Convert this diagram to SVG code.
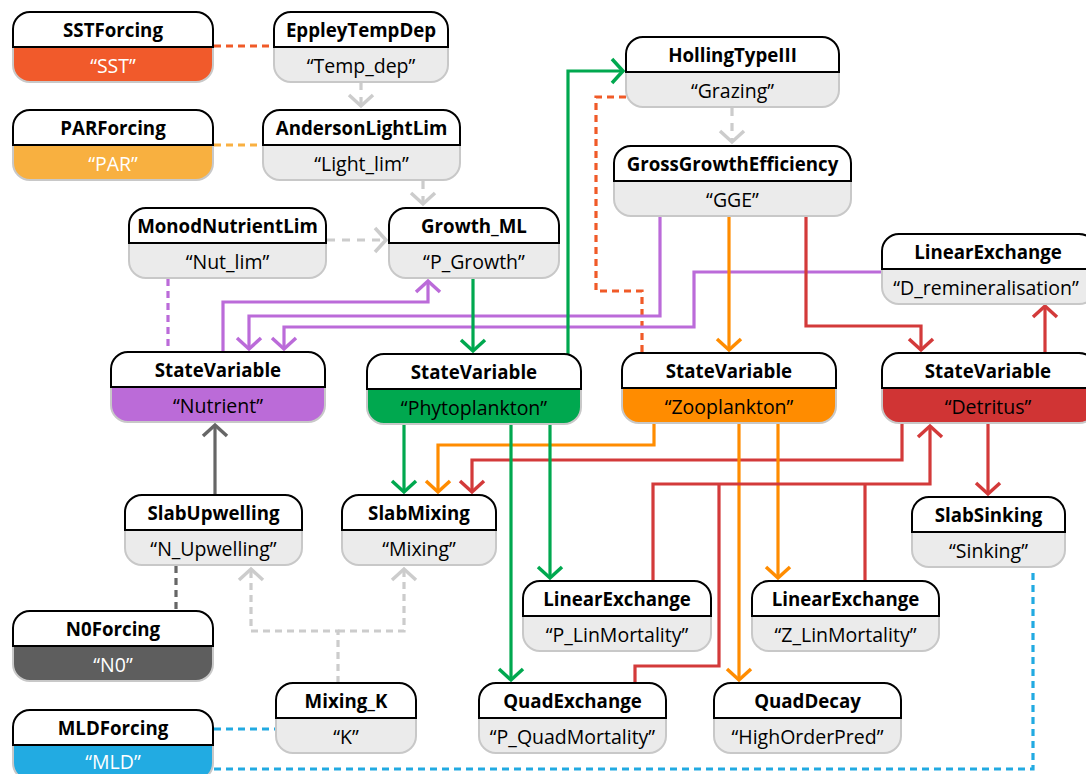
<svg xmlns="http://www.w3.org/2000/svg" width="1086" height="774" viewBox="0 0 1086 774">
<style>
.hd{fill:#fff;stroke:#000;stroke-width:2}
.bd{fill:#ebebeb;stroke:#c8c8c8;stroke-width:2}
.ht{font-family:"Open Sans","Noto Sans",sans-serif;font-weight:bold;font-size:18.7px;text-anchor:middle;fill:#000}
.bt{font-family:"Open Sans","Noto Sans",sans-serif;font-size:19.5px;text-anchor:middle;fill:#000}
.w{fill:#fff}
.ln{fill:none;stroke-width:3.2}
.d1{stroke-dasharray:7 5}
.d2{stroke-dasharray:8 7}
.gy{stroke:#cccccc}
.pu{stroke:#bb6bd9}
.gr{stroke:#00a84f}
.or{stroke:#ff8c00}
.rd{stroke:#d33a3a}
.sst{stroke:#f05a28}
.par{stroke:#f9b041}
.dk{stroke:#666666}
.bl{stroke:#22aae1}
</style>
<defs>
<marker id="mgy" markerUnits="userSpaceOnUse" markerWidth="40" markerHeight="40" viewBox="-20 -20 40 40" refX="0" refY="0" orient="auto"><path d="M-11,-12 L0,0 L-11,12" fill="none" stroke="#cccccc" stroke-width="3.5"/></marker>
<marker id="mpu" markerUnits="userSpaceOnUse" markerWidth="40" markerHeight="40" viewBox="-20 -20 40 40" refX="0" refY="0" orient="auto"><path d="M-11,-12 L0,0 L-11,12" fill="none" stroke="#bb6bd9" stroke-width="3.5"/></marker>
<marker id="mgr" markerUnits="userSpaceOnUse" markerWidth="40" markerHeight="40" viewBox="-20 -20 40 40" refX="0" refY="0" orient="auto"><path d="M-11,-12 L0,0 L-11,12" fill="none" stroke="#00a84f" stroke-width="3.5"/></marker>
<marker id="mor" markerUnits="userSpaceOnUse" markerWidth="40" markerHeight="40" viewBox="-20 -20 40 40" refX="0" refY="0" orient="auto"><path d="M-11,-12 L0,0 L-11,12" fill="none" stroke="#ff8c00" stroke-width="3.5"/></marker>
<marker id="mrd" markerUnits="userSpaceOnUse" markerWidth="40" markerHeight="40" viewBox="-20 -20 40 40" refX="0" refY="0" orient="auto"><path d="M-11,-12 L0,0 L-11,12" fill="none" stroke="#d33a3a" stroke-width="3.5"/></marker>
<marker id="mdk" markerUnits="userSpaceOnUse" markerWidth="40" markerHeight="40" viewBox="-20 -20 40 40" refX="0" refY="0" orient="auto"><path d="M-11,-12 L0,0 L-11,12" fill="none" stroke="#666666" stroke-width="3.5"/></marker>
</defs>
<g id="connectors">
<path class="ln sst d1" d="M214,46 H274"/>
<path class="ln par d1" d="M214,145 H263"/>
<path class="ln gy d2" d="M361,82 V106" marker-end="url(#mgy)"/>
<path class="ln gy d2" d="M423,181 V204" marker-end="url(#mgy)"/>
<path class="ln gy d2" d="M327,240 H386" marker-end="url(#mgy)"/>
<path class="ln gy d2" d="M732,108 V142" marker-end="url(#mgy)"/>
<path class="ln pu d1" d="M168,279 V352"/>
<path class="ln sst d1" d="M626,97 H596 V291 H642 V353"/>
<path class="ln pu" d="M223,352 V302 H428 V281" marker-end="url(#mpu)"/>
<path class="ln pu" d="M660,216 V316 H249 V349" marker-end="url(#mpu)"/>
<path class="ln pu" d="M882,272 H694 V327 H284 V349" marker-end="url(#mpu)"/>
<path class="ln gr" d="M473,279 V351" marker-end="url(#mgr)"/>
<path class="ln gr" d="M568,362 V71 H623" marker-end="url(#mgr)"/>
<path class="ln or" d="M729,216 V350" marker-end="url(#mor)"/>
<path class="ln rd" d="M806,216 V326 H921 V350" marker-end="url(#mrd)"/>
<path class="ln rd" d="M1045,353 V306" marker-end="url(#mrd)"/>
<path class="ln gr" d="M404,424 V492" marker-end="url(#mgr)"/>
<path class="ln or" d="M654,423 V445 H438 V492" marker-end="url(#mor)"/>
<path class="ln rd" d="M902,423 V460 H472 V492" marker-end="url(#mrd)"/>
<path class="ln gr" d="M550,424 V578" marker-end="url(#mgr)"/>
<path class="ln gr" d="M511,424 V680" marker-end="url(#mgr)"/>
<path class="ln or" d="M778,423 V578" marker-end="url(#mor)"/>
<path class="ln or" d="M739,423 V680" marker-end="url(#mor)"/>
<path class="ln rd" d="M653,581 V484 H930 V426" marker-end="url(#mrd)"/>
<path class="ln rd" d="M865,581 V484"/>
<path class="ln rd" d="M635,683 V666 H719 V484"/>
<path class="ln rd" d="M988,423 V494" marker-end="url(#mrd)"/>
<path class="ln dk" d="M215,495 V425" marker-end="url(#mdk)"/>
<path class="ln dk d1" d="M176,566 V611"/>
<path class="ln gy d1" d="M338,683 V631 H251 V569" marker-end="url(#mgy)"/>
<path class="ln gy d1" d="M338,631 H404 V569" marker-end="url(#mgy)"/>
<path class="ln bl d1" d="M214,729 H276"/>
<path class="ln bl d1" d="M214,769 H1033 V567"/>
</g>
<g id="SSTForcing" transform="translate(13,12)"><path class="bd" style="fill:#f15a2b" d="M0,35 H200 V53 A17,17 0 0 1 183,70 H17 A17,17 0 0 1 0,53 Z"/><path class="hd" d="M0,35 V17 A17,17 0 0 1 17,0 H183 A17,17 0 0 1 200,17 V35 Z"/><text class="ht" x="100" y="25">SSTForcing</text><text class="bt w" x="100" y="60.5">“SST”</text></g>
<g id="EppleyTempDep" transform="translate(274,12)"><path class="bd" d="M0,35 H174 V53 A17,17 0 0 1 157,70 H17 A17,17 0 0 1 0,53 Z"/><path class="hd" d="M0,35 V17 A17,17 0 0 1 17,0 H157 A17,17 0 0 1 174,17 V35 Z"/><text class="ht" x="87" y="25">EppleyTempDep</text><text class="bt" x="87" y="60.5">“Temp_dep”</text></g>
<g id="PARForcing" transform="translate(13,110)"><path class="bd" style="fill:#f8b040" d="M0,35 H200 V53 A17,17 0 0 1 183,70 H17 A17,17 0 0 1 0,53 Z"/><path class="hd" d="M0,35 V17 A17,17 0 0 1 17,0 H183 A17,17 0 0 1 200,17 V35 Z"/><text class="ht" x="100" y="25">PARForcing</text><text class="bt w" x="100" y="60.5">“PAR”</text></g>
<g id="AndersonLightLim" transform="translate(263,110)"><path class="bd" d="M0,35 H197 V53 A17,17 0 0 1 180,70 H17 A17,17 0 0 1 0,53 Z"/><path class="hd" d="M0,35 V17 A17,17 0 0 1 17,0 H180 A17,17 0 0 1 197,17 V35 Z"/><text class="ht" x="98.5" y="25">AndersonLightLim</text><text class="bt" x="98.5" y="60.5">“Light_lim”</text></g>
<g id="MonodNutrientLim" transform="translate(129,208)"><path class="bd" d="M0,35 H197 V53 A17,17 0 0 1 180,70 H17 A17,17 0 0 1 0,53 Z"/><path class="hd" d="M0,35 V17 A17,17 0 0 1 17,0 H180 A17,17 0 0 1 197,17 V35 Z"/><text class="ht" x="98.5" y="25">MonodNutrientLim</text><text class="bt" x="98.5" y="60.5">“Nut_lim”</text></g>
<g id="Growth_ML" transform="translate(389,208)"><path class="bd" d="M0,35 H170 V53 A17,17 0 0 1 153,70 H17 A17,17 0 0 1 0,53 Z"/><path class="hd" d="M0,35 V17 A17,17 0 0 1 17,0 H153 A17,17 0 0 1 170,17 V35 Z"/><text class="ht" x="85" y="25">Growth_ML</text><text class="bt" x="85" y="60.5">“P_Growth”</text></g>
<g id="HollingTypeIII" transform="translate(626,37)"><path class="bd" d="M0,35 H213 V53 A17,17 0 0 1 196,70 H17 A17,17 0 0 1 0,53 Z"/><path class="hd" d="M0,35 V17 A17,17 0 0 1 17,0 H196 A17,17 0 0 1 213,17 V35 Z"/><text class="ht" x="106.5" y="25">HollingTypeIII</text><text class="bt" x="106.5" y="60.5">“Grazing”</text></g>
<g id="GrossGrowthEfficiency" transform="translate(614,146)"><path class="bd" d="M0,35 H237 V53 A17,17 0 0 1 220,70 H17 A17,17 0 0 1 0,53 Z"/><path class="hd" d="M0,35 V17 A17,17 0 0 1 17,0 H220 A17,17 0 0 1 237,17 V35 Z"/><text class="ht" x="118.5" y="25">GrossGrowthEfficiency</text><text class="bt" x="118.5" y="60.5">“GGE”</text></g>
<g id="D_remineralisation" transform="translate(882,234)"><path class="bd" d="M0,35 H214 V53 A17,17 0 0 1 197,70 H17 A17,17 0 0 1 0,53 Z"/><path class="hd" d="M0,35 V17 A17,17 0 0 1 17,0 H197 A17,17 0 0 1 214,17 V35 Z"/><text class="ht" x="106" y="25">LinearExchange</text><text class="bt" x="104" y="60.5">“D_remineralisation”</text></g>
<g id="Nutrient" transform="translate(111,352)"><path class="bd" style="fill:#bb6bd8" d="M0,35 H214 V53 A17,17 0 0 1 197,70 H17 A17,17 0 0 1 0,53 Z"/><path class="hd" d="M0,35 V17 A17,17 0 0 1 17,0 H197 A17,17 0 0 1 214,17 V35 Z"/><text class="ht" x="107" y="25">StateVariable</text><text class="bt" x="107" y="60.5">“Nutrient”</text></g>
<g id="Phytoplankton" transform="translate(367,354)"><path class="bd" style="fill:#00a84f" d="M0,35 H214 V53 A17,17 0 0 1 197,70 H17 A17,17 0 0 1 0,53 Z"/><path class="hd" d="M0,35 V17 A17,17 0 0 1 17,0 H197 A17,17 0 0 1 214,17 V35 Z"/><text class="ht" x="107" y="25">StateVariable</text><text class="bt" x="107" y="60.5">“Phytoplankton”</text></g>
<g id="Zooplankton" transform="translate(622,353)"><path class="bd" style="fill:#ff8c00" d="M0,35 H214 V53 A17,17 0 0 1 197,70 H17 A17,17 0 0 1 0,53 Z"/><path class="hd" d="M0,35 V17 A17,17 0 0 1 17,0 H197 A17,17 0 0 1 214,17 V35 Z"/><text class="ht" x="107" y="25">StateVariable</text><text class="bt" x="107" y="60.5">“Zooplankton”</text></g>
<g id="Detritus" transform="translate(882,353)"><path class="bd" style="fill:#d03434" d="M0,35 H214 V53 A17,17 0 0 1 197,70 H17 A17,17 0 0 1 0,53 Z"/><path class="hd" d="M0,35 V17 A17,17 0 0 1 17,0 H197 A17,17 0 0 1 214,17 V35 Z"/><text class="ht" x="106" y="25">StateVariable</text><text class="bt" x="106" y="60.5">“Detritus”</text></g>
<g id="SlabUpwelling" transform="translate(125,495)"><path class="bd" d="M0,35 H177 V53 A17,17 0 0 1 160,70 H17 A17,17 0 0 1 0,53 Z"/><path class="hd" d="M0,35 V17 A17,17 0 0 1 17,0 H160 A17,17 0 0 1 177,17 V35 Z"/><text class="ht" x="88.5" y="25">SlabUpwelling</text><text class="bt" x="88.5" y="60.5">“N_Upwelling”</text></g>
<g id="SlabMixing" transform="translate(342,495)"><path class="bd" d="M0,35 H154 V53 A17,17 0 0 1 137,70 H17 A17,17 0 0 1 0,53 Z"/><path class="hd" d="M0,35 V17 A17,17 0 0 1 17,0 H137 A17,17 0 0 1 154,17 V35 Z"/><text class="ht" x="77" y="25">SlabMixing</text><text class="bt" x="77" y="60.5">“Mixing”</text></g>
<g id="SlabSinking" transform="translate(912,497)"><path class="bd" d="M0,35 H153 V53 A17,17 0 0 1 136,70 H17 A17,17 0 0 1 0,53 Z"/><path class="hd" d="M0,35 V17 A17,17 0 0 1 17,0 H136 A17,17 0 0 1 153,17 V35 Z"/><text class="ht" x="76.5" y="25">SlabSinking</text><text class="bt" x="76.5" y="60.5">“Sinking”</text></g>
<g id="P_LinMortality" transform="translate(523,581)"><path class="bd" d="M0,35 H188 V53 A17,17 0 0 1 171,70 H17 A17,17 0 0 1 0,53 Z"/><path class="hd" d="M0,35 V17 A17,17 0 0 1 17,0 H171 A17,17 0 0 1 188,17 V35 Z"/><text class="ht" x="94" y="25">LinearExchange</text><text class="bt" x="94" y="60.5">“P_LinMortality”</text></g>
<g id="Z_LinMortality" transform="translate(752,581)"><path class="bd" d="M0,35 H187 V53 A17,17 0 0 1 170,70 H17 A17,17 0 0 1 0,53 Z"/><path class="hd" d="M0,35 V17 A17,17 0 0 1 17,0 H170 A17,17 0 0 1 187,17 V35 Z"/><text class="ht" x="93.5" y="25">LinearExchange</text><text class="bt" x="93.5" y="60.5">“Z_LinMortality”</text></g>
<g id="N0Forcing" transform="translate(13,611)"><path class="bd" style="fill:#5e5e5e" d="M0,35 H200 V53 A17,17 0 0 1 183,70 H17 A17,17 0 0 1 0,53 Z"/><path class="hd" d="M0,35 V17 A17,17 0 0 1 17,0 H183 A17,17 0 0 1 200,17 V35 Z"/><text class="ht" x="100" y="25">N0Forcing</text><text class="bt w" x="100" y="60.5">“N0”</text></g>
<g id="Mixing_K" transform="translate(276,683)"><path class="bd" d="M0,35 H140 V53 A17,17 0 0 1 123,70 H17 A17,17 0 0 1 0,53 Z"/><path class="hd" d="M0,35 V17 A17,17 0 0 1 17,0 H123 A17,17 0 0 1 140,17 V35 Z"/><text class="ht" x="70" y="25">Mixing_K</text><text class="bt" x="70" y="60.5">“K”</text></g>
<g id="MLDForcing" transform="translate(13,710)"><path class="bd" style="fill:#22abe2" d="M0,35 H200 V53 A17,17 0 0 1 183,70 H17 A17,17 0 0 1 0,53 Z"/><path class="hd" d="M0,35 V17 A17,17 0 0 1 17,0 H183 A17,17 0 0 1 200,17 V35 Z"/><text class="ht" x="100" y="25">MLDForcing</text><text class="bt w" x="100" y="59">“MLD”</text></g>
<g id="QuadExchange" transform="translate(479,683)"><path class="bd" d="M0,35 H187 V53 A17,17 0 0 1 170,70 H17 A17,17 0 0 1 0,53 Z"/><path class="hd" d="M0,35 V17 A17,17 0 0 1 17,0 H170 A17,17 0 0 1 187,17 V35 Z"/><text class="ht" x="93.5" y="25">QuadExchange</text><text class="bt" x="93.5" y="60.5">“P_QuadMortality”</text></g>
<g id="QuadDecay" transform="translate(714,683)"><path class="bd" d="M0,35 H187 V53 A17,17 0 0 1 170,70 H17 A17,17 0 0 1 0,53 Z"/><path class="hd" d="M0,35 V17 A17,17 0 0 1 17,0 H170 A17,17 0 0 1 187,17 V35 Z"/><text class="ht" x="93.5" y="25">QuadDecay</text><text class="bt" x="93.5" y="60.5">“HighOrderPred”</text></g>
</svg>
